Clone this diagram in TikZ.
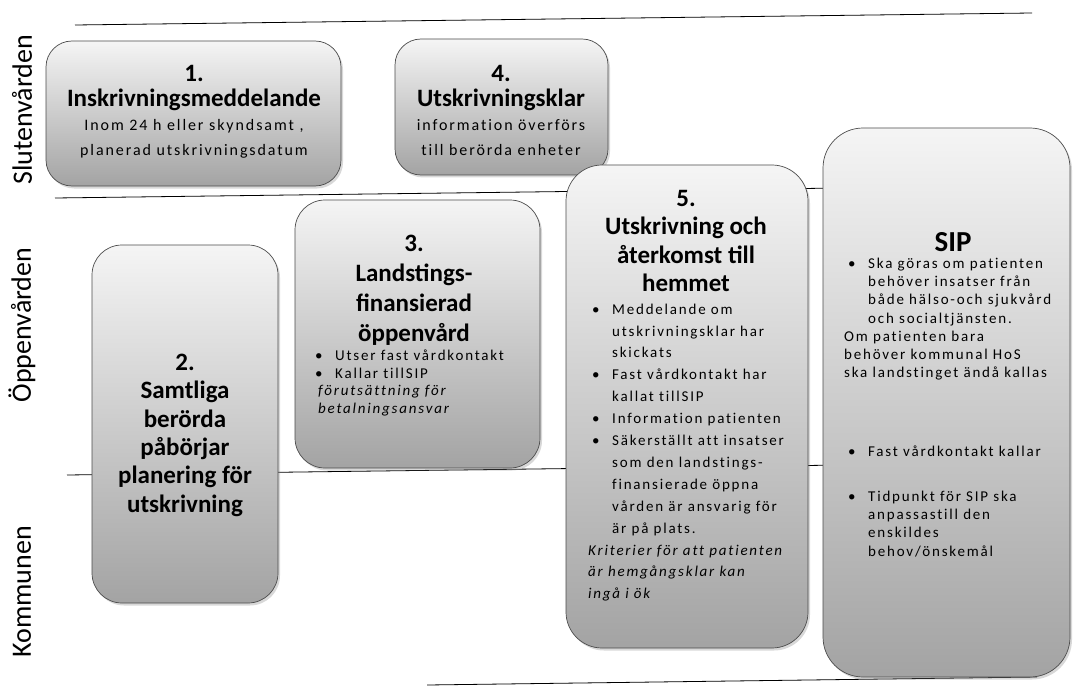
\documentclass[tikz,border=0pt]{standalone}
\usepackage{fontspec}
\setmainfont{Carlito}
\newfontfamily\bodyfont[LetterSpace=12,Ligatures=NoCommon]{Carlito}
\usetikzlibrary{shadows}

\newcommand{\punkt}{\makebox[24pt][l]{\hspace{4pt}\textbullet}}
\newcommand{\indrag}{\hspace*{24pt}}

\begin{document}
\begin{tikzpicture}[x=1pt, y=-1pt,
    lane/.style={rotate=90, inner sep=0pt, font=\fontsize{28}{30}\selectfont},
    box/.style={draw=black!70, line width=0.7pt, rounded corners=#1, inner sep=0pt,
        top color=black!4, middle color=black!13, bottom color=black!36,
        drop shadow={opacity=0.3, shadow xshift=2pt, shadow yshift=-2.5pt}},
    box/.default=26pt,
    rubrik/.style={anchor=north, inner sep=0pt, align=center, font=\bfseries\fontsize{25}{#1}\selectfont},
    rubrik/.default=28.3,
    undertext/.style={anchor=north, inner sep=0pt, align=center, font=\bodyfont\fontsize{16}{25}\selectfont},
    brodtext/.style={anchor=north west, inner sep=0pt, align=left, font=\bodyfont\fontsize{15}{#1}\selectfont},
    skiljelinje/.style={line width=0.8pt}]
    \fill[white] (0,0) rectangle (1075,687);
    \useasboundingbox (0,0) rectangle (1075,687);

    % skiljelinjer mellan vardnivaerna
    \draw[skiljelinje] (75,25) -- (1032,13);
    \draw[skiljelinje] (55,198) -- (1000,186);
    \draw[skiljelinje] (67,475) -- (1000,463);
    \draw[skiljelinje] (427,685) -- (1037,677);

    \node[lane] (sluten) at (22,110) {Slutenvården};
    \node[lane] (oppen) at (22,325) {Öppenvården};
    \node[lane] (kommun) at (22,592) {Kommunen};

    % 1. inskrivning
    \node[box=26pt, minimum width=295pt, minimum height=145pt] (inskr) at (193.5,113.5) {};
    \node[rubrik=25] (inskrT) at (194,65) {1.\\Inskrivningsmeddelande};
    \node[undertext] (inskrU) at (194,119.5) {Inom 24 h eller skyndsamt ,\\planerad utskrivningsdatum};

    % 4. utskrivningsklar
    \node[box=26pt, minimum width=213pt, minimum height=136pt] (klar) at (501.5,107) {};
    \node[rubrik=25] (klarT) at (501,65) {4.\\Utskrivningsklar};
    \node[undertext] (klarU) at (501,119.5) {information överförs\\till berörda enheter};

    % 2. planering
    \node[box=30pt, minimum width=186pt, minimum height=358pt] (plan) at (185,424) {};
    \node[rubrik] (planT) at (185,354) {2.\\Samtliga\\berörda\\påbörjar\\planering för\\utskrivning};

    % 3. landstingsfinansierad oppenvard
    \node[box=30pt, minimum width=245pt, minimum height=268pt] (lands) at (417.5,334) {};
    \node[rubrik=30] (landsT) at (414,235) {3.\\Landstings-\\finansierad\\öppenvård};
    \node[brodtext=17.7] (landsL) at (311,349.5) {\punkt Utser fast vårdkontakt\\
        \punkt Kallar tillSIP\\
        \hspace*{7pt}\textit{förutsättning för}\\
        \hspace*{7pt}\textit{betalningsansvar}};

    % 5. utskrivning och aterkomst
    \node[box=36pt, minimum width=242pt, minimum height=483pt] (hem) at (687,406.5) {};
    \node[rubrik] (hemT) at (686,190) {5.\\Utskrivning och\\återkomst till\\hemmet};
    \node[brodtext=21.9] (hemL) at (588,303.5) {\punkt Meddelande om\\
        \indrag utskrivningsklar har\\
        \indrag skickats\\
        \punkt Fast vårdkontakt har\\
        \indrag kallat tillSIP\\
        \punkt Information patienten\\
        \punkt Säkerställt att insatser\\
        \indrag som den landstings-\\
        \indrag finansierade öppna\\
        \indrag vården är ansvarig för\\
        \indrag är på plats.\\
        \textit{Kriterier för att patienten}\\
        \textit{är hemgångsklar kan}\\
        \textit{ingå i ök}};

    % SIP
    \node[box=40pt, minimum width=247pt, minimum height=549pt] (sip) at (946.5,402.5) {};
    \node[anchor=north, inner sep=0pt, font=\bfseries\fontsize{29}{30}\selectfont] (sipT) at (953,232.5) {SIP};
    \node[brodtext=18.3] (sipL) at (844,257.5) {\punkt Ska göras om patienten\\
        \indrag behöver insatser från\\
        \indrag både hälso-och sjukvård\\
        \indrag och socialtjänsten.\\
        Om patienten bara\\
        behöver kommunal HoS\\
        ska landstinget ändå kallas\\[60pt]
        \punkt Fast vårdkontakt kallar\\[26.7pt]
        \punkt Tidpunkt för SIP ska\\
        \indrag anpassastill den\\
        \indrag enskildes\\
        \indrag behov/önskemål};
\end{tikzpicture}
\end{document}
